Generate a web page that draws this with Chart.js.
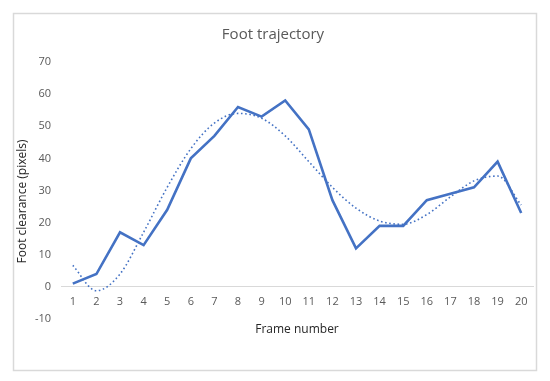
<!DOCTYPE html>
<html>
<head>
<meta charset="utf-8">
<script src="https://cdn.jsdelivr.net/npm/chart.js@4/dist/chart.umd.min.js"></script>
<style>
html,body{margin:0;padding:0;background:#fff;}
#wrap{position:relative;width:550px;height:381px;}
</style>
</head>
<body>
<div id="wrap"><canvas id="c" width="550" height="381"></canvas></div>
<script>
const frames = ["1","2","3","4","5","6","7","8","9","10","11","12","13","14","15","16","17","18","19","20"];
const clearance = [1,4,17,13,24,40,47,56,53,58,49,27,12,19,19,27,29,31,39,23];
const trend = [6.7,-1.2,4,17,31,43,51,54,52.5,47,39,31,24.5,20.5,19.5,22.5,28,33,34.5,25.5];
const yTicks = {min:-10, max:70, step:10};
const xTitle = 'Frame number';
const yTitle = 'Foot clearance (pixels)';

const font = "'Open Sans', 'Liberation Sans', sans-serif";

const borderPlugin = {
  id:'outerBorder',
  beforeDraw(chart){
    const ctx = chart.ctx;
    ctx.save();
    ctx.fillStyle = '#fff';
    ctx.fillRect(0,0,chart.width,chart.height);
    ctx.strokeStyle = '#d9d9d9';
    ctx.lineWidth = 1.5;
    ctx.strokeRect(13.5,13.5,523,357);
    ctx.restore();
  },
  afterDraw(chart){
    const ctx = chart.ctx;
    const a = chart.chartArea;
    ctx.save();
    ctx.fillStyle = '#262626';
    ctx.font = "12px " + font;
    ctx.textAlign = 'center';
    ctx.textBaseline = 'middle';
    ctx.fillText(xTitle, (a.left + a.right)/2, a.bottom + 11);
    ctx.translate(23, (a.top + a.bottom)/2 + 11);
    ctx.rotate(-Math.PI/2);
    ctx.fillText(yTitle, 0, 0);
    ctx.restore();
  }
};

new Chart(document.getElementById('c'), {
  type:'line',
  data:{
    labels: frames,
    datasets:[
      {data: clearance, borderColor:'#4472C4', borderWidth:2.6, pointRadius:0, tension:0, fill:false, order:1},
      {data: trend, borderColor:'#4472C4', borderWidth:1.6, borderDash:[1.6,2.6], pointRadius:0, cubicInterpolationMode:'monotone', fill:false, order:2}
    ]
  },
  options:{
    responsive:false,
    animation:false,
    devicePixelRatio:1,
    layout:{padding:{left:13, right:17, top:0, bottom:62}},
    plugins:{
      legend:{display:false},
      tooltip:{enabled:false},
      title:{display:true, text:'Foot trajectory', color:'#595959', font:{family:font, size:15, weight:'normal'}, padding:{top:26, bottom:18}}
    },
    scales:{
      x:{
        type:'category',
        position:{y:0},
        offset:true,
        grid:{display:false, drawTicks:false},
        border:{display:true, color:'#d9d9d9', width:1},
        ticks:{color:'#595959', font:{family:font, size:11}, padding:8, maxRotation:0, autoSkip:false}
      },
      y:{
        min:yTicks.min, max:yTicks.max,
        grid:{display:false, drawTicks:false},
        border:{display:false},
        ticks:{stepSize:yTicks.step, color:'#595959', font:{family:font, size:11}, padding:10},
        afterFit(s){ s.width = 48; }
      }
    }
  },
  plugins:[borderPlugin]
});
</script>
</body>
</html>
